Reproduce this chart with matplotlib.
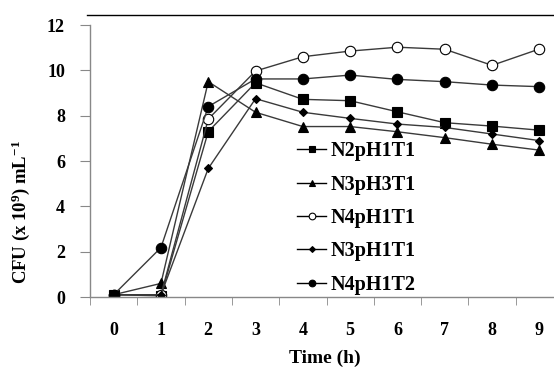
import matplotlib
matplotlib.use("Agg")
import matplotlib.pyplot as plt
from matplotlib.lines import Line2D

time_h = [0, 1, 2, 3, 4, 5, 6, 7, 8, 9]
n2ph1t1 = [0.1, 0.05, 7.3, 9.45, 8.72, 8.66, 8.17, 7.69, 7.54, 7.36]
n3ph3t1 = [0.1, 0.6, 9.5, 8.15, 7.52, 7.52, 7.29, 7.03, 6.74, 6.48]
n4ph1t1 = [0.1, 0.1, 7.85, 9.97, 10.6, 10.85, 11.02, 10.93, 10.22, 10.94]
n3ph1t1 = [0.1, 0.1, 5.67, 8.75, 8.15, 7.88, 7.63, 7.48, 7.19, 6.9]
n4ph1t2 = [0.1, 2.18, 8.4, 9.62, 9.62, 9.79, 9.6, 9.5, 9.35, 9.28]
labels = ["N2pH1T1", "N3pH3T1", "N4pH1T1", "N3pH1T1", "N4pH1T2"]
yticks = [0, 2, 4, 6, 8, 10, 12]

plt.rcParams['font.family'] = ['Liberation Serif', 'DejaVu Serif']
plt.rcParams['font.weight'] = 'bold'
plt.rcParams['mathtext.fontset'] = 'custom'
plt.rcParams['mathtext.rm'] = 'Liberation Serif:bold'
plt.rcParams['mathtext.it'] = 'Liberation Serif:bold'
plt.rcParams['mathtext.bf'] = 'Liberation Serif:bold'
plt.rcParams['mathtext.default'] = 'rm'

W, H = 554, 367
fig = plt.figure(figsize=(W / 100, H / 100), dpi=100)
ax = fig.add_axes([90 / W, 70 / H, 473 / W, 272 / H])

series = [n2ph1t1, n3ph3t1, n4ph1t1, n3ph1t1, n4ph1t2]
styles = [
    dict(marker='s', ms=7, mfc='black'),
    dict(marker='^', ms=7, mfc='black'),
    dict(marker='o', ms=7.5, mfc='white'),
    dict(marker='D', ms=4, mfc='black'),
    dict(marker='o', ms=7.5, mfc='black'),
]
leg_ms = [4.5, 4.5, 4.8, 3, 4.8]
lc = '#3a3a3a'
handles = []
for y, st, lab, lms in zip(series, styles, labels, leg_ms):
    ax.plot(time_h, y, color=lc, lw=1.0, mec='black', mew=0.8, **st)
    hst = dict(st)
    hst['ms'] = lms
    handles.append(Line2D([], [], color='black', lw=1.0, mec='black', mew=0.8, **hst))

ax.set_xlim(-0.5, 9.5)
ax.set_ylim(0, 12)
ax.set_yticks(yticks)
ax.set_xticks(time_h)
ax.set_xticks([i - 0.5 for i in range(11)], minor=True)
ax.tick_params(axis='x', which='major', length=0, pad=18, labelsize=13)
ax.tick_params(axis='x', which='minor', length=6, color='#888888', direction='out')
ax.tick_params(axis='y', length=7, color='#888888', pad=11, labelsize=13)
for s in ['top', 'right']:
    ax.spines[s].set_visible(False)
for s in ['left', 'bottom']:
    ax.spines[s].set_color('#888888')
    ax.spines[s].set_linewidth(1.0)

fig.text(325 / W, 1 - 358 / H, "Time (h)", fontsize=14, fontweight='bold',
         ha='center', va='center')
fig.text(21 / W, 1 - 212 / H, r"CFU (x 10$^{9}$) mL$^{-1}$", fontsize=13.5,
         fontweight='bold', rotation=90, ha='center', va='center')

leg = fig.legend(handles, labels, loc='center left', bbox_to_anchor=(297 / W, 1 - 218 / H),
                 frameon=False, fontsize=14.5,
                 handlelength=1.45, handletextpad=0.2, labelspacing=0.66,
                 borderpad=0, borderaxespad=0)

fig.add_artist(Line2D([87 / W, 1.0], [1 - 15 / H, 1 - 15 / H], color='black', lw=1.0,
                      transform=fig.transFigure))

fig.savefig("out.png", dpi=100)
